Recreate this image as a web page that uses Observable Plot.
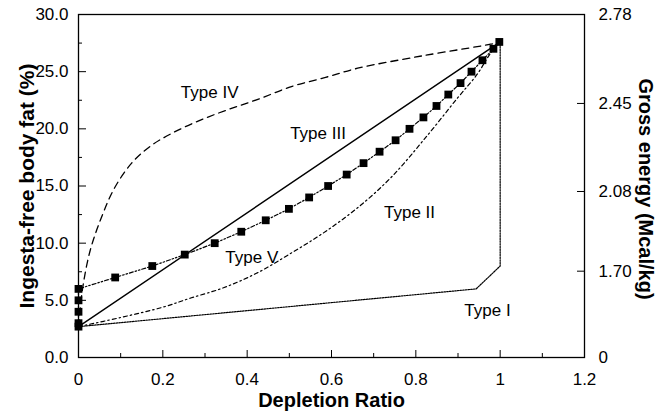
<!DOCTYPE html>
<html><head><meta charset="utf-8">
<script src="https://cdn.jsdelivr.net/npm/d3@7"></script>
<script src="https://cdn.jsdelivr.net/npm/@observablehq/plot@0.6"></script>
<style>body{margin:0;background:#fff} svg{font-family:"Liberation Sans",Arial,sans-serif}</style>
</head><body><div id="chart"></div><script>
// Type I (dotted)
const typeI_x = [0, 0.943, 1.0, 1.0];
const typeI_y = [2.7, 6.0, 8.0, 27.6];
// Type II (dash-dot)
const typeII_x = [0, 0.1, 0.2, 0.266, 0.344, 0.424, 0.503, 0.581, 0.662, 0.74, 0.818, 0.899, 0.946, 0.977, 1.0];
const typeII_y = [2.7, 3.5, 4.4, 5.2, 6.1, 7.4, 9.1, 10.9, 13.1, 15.7, 19.0, 22.7, 24.8, 26.6, 27.6];
// Type III (solid)
const typeIII_x = [0, 1.0];
const typeIII_y = [2.7, 27.6];
// Type IV (dashed)
const typeIV_x = [0, 0.01, 0.028, 0.056, 0.085, 0.126, 0.171, 0.221, 0.285, 0.356, 0.427, 0.505, 0.586, 0.662, 0.818, 0.977, 1.0];
const typeIV_y = [2.7, 6.1, 9.4, 12.4, 14.8, 17.0, 18.5, 19.6, 20.7, 21.7, 22.6, 23.7, 24.5, 25.3, 26.4, 27.4, 27.6];
// Type V (squares, dash-dot-dot)
const typeV_x = [0, 0, 0, 0, 0, 0.087, 0.175, 0.252, 0.323, 0.386, 0.444, 0.499, 0.547, 0.592, 0.636, 0.676, 0.714, 0.752, 0.785, 0.818, 0.849, 0.877, 0.906, 0.932, 0.958, 0.984, 0.998];
const typeV_y = [2.7, 3, 4, 5, 6, 7, 8, 9, 10, 11, 12, 13, 14, 15, 16, 17, 18, 19, 20, 21, 22, 23, 24, 25, 26, 27, 27.6];

// series labels
const labelText = ["Type IV", "Type III", "Type II", "Type V", "Type I"];
const labelX = [0.311, 0.568, 0.785, 0.411, 0.97];
const labelY = [23.2, 19.6, 12.7, 8.7, 4.1];

// ticks
const yMajor = [0, 5, 10, 15, 20, 25, 30];
const yMinor = [2.5, 7.5, 12.5, 17.5, 22.5, 27.5];
const xMajor = [0, 0.2, 0.4, 0.6, 0.8, 1.0, 1.2];
const xMinor = [0.1, 0.3, 0.5, 0.7, 0.9, 1.1];
const xLabels = ["0", "0.2", "0.4", "0.6", "0.8", "1", "1.2"];
const rightPos = [30, 22.22, 14.52, 7.55, 0];
const rightLabels = ["2.78", "2.45", "2.08", "1.70", "0"];

const zip = (xs, ys) => xs.map((x, i) => ({x, y: ys[i]}));
const dI = zip(typeI_x, typeI_y), dII = zip(typeII_x, typeII_y), dIII = zip(typeIII_x, typeIII_y),
      dIV = zip(typeIV_x, typeIV_y), dV = zip(typeV_x, typeV_y);
const labels = labelText.map((t, i) => ({t, x: labelX[i], y: labelY[i]}));
const xLab = new Map(xMajor.map((v, i) => [v, xLabels[i]]));
const rLab = new Map(rightPos.map((v, i) => [v, rightLabels[i]]));

const font = "Liberation Sans, Arial, sans-serif";
const chart = Plot.plot({
  width: 658, height: 414,
  marginLeft: 78, marginRight: 74, marginTop: 14, marginBottom: 57,
  style: {fontFamily: font, background: "#fff"},
  x: {domain: [0, 1.2], label: null},
  y: {domain: [0, 30], label: null},
  marks: [
    Plot.line(dI, {x: "x", y: "y", stroke: "black", strokeWidth: 1.2, strokeDasharray: "1.5,1.2"}),
    Plot.line(dII, {x: "x", y: "y", stroke: "black", strokeWidth: 1.2, strokeDasharray: "4,3,1.5,3", curve: "catmull-rom"}),
    Plot.line(dIII, {x: "x", y: "y", stroke: "black", strokeWidth: 1.4}),
    Plot.line(dIV, {x: "x", y: "y", stroke: "black", strokeWidth: 1.3, strokeDasharray: "7,5", curve: "catmull-rom"}),
    Plot.line(dV, {x: "x", y: "y", stroke: "black", strokeWidth: 1.2, strokeDasharray: "4,2,1.5,2,1.5,2"}),
    Plot.dot(dV, {x: "x", y: "y", symbol: "square", fill: "black", r: 4.4}),
    Plot.text(labels, {x: "x", y: "y", text: "t", fontSize: 17, fill: "black"}),
    Plot.frame({stroke: "black", strokeWidth: 1.3}),
    // left axis
    Plot.axisY(yMajor, {tickSize: 0, tickPadding: 10, tickFormat: d => d.toFixed(1), fontSize: 17, fill: "black", label: null}),
    Plot.axisY(yMajor, {tickSize: -8, tickFormat: () => "", stroke: "black", label: null}),
    Plot.axisY(yMinor, {tickSize: -4, tickFormat: () => "", stroke: "black", label: null}),
    // bottom axis
    Plot.axisX(xMajor, {tickSize: 0, tickPadding: 15, tickFormat: d => xLab.get(d), fontSize: 17, fill: "black", label: null}),
    Plot.axisX(xMajor, {tickSize: -7, tickFormat: () => "", stroke: "black", label: null}),
    Plot.axisX(xMinor, {tickSize: -4, tickFormat: () => "", stroke: "black", label: null}),
    // right axis
    Plot.axisY(rightPos, {anchor: "right", tickSize: 0, tickPadding: 14, tickFormat: d => rLab.get(d), fontSize: 17, fill: "black", label: null}),
    Plot.axisY(rightPos, {anchor: "right", tickSize: -8, tickFormat: () => "", stroke: "black", label: null}),
    // titles
    Plot.text(["Depletion Ratio"], {frameAnchor: "bottom", dy: 43, lineAnchor: "middle", textAnchor: "middle", fontSize: 20, fontWeight: "bold", fill: "black"}),
    Plot.text(["Ingesta-free body fat (%)"], {frameAnchor: "left", dx: -51, rotate: -90, textAnchor: "middle", lineAnchor: "middle", fontSize: 21, fontWeight: "bold", fill: "black"}),
    Plot.text(["Gross energy (Mcal/kg)"], {frameAnchor: "right", dx: 61, dy: 3, rotate: 90, textAnchor: "middle", lineAnchor: "middle", fontSize: 20, fontWeight: "bold", fill: "black"})
  ]
});
document.getElementById("chart").appendChild(chart);
</script></body></html>
